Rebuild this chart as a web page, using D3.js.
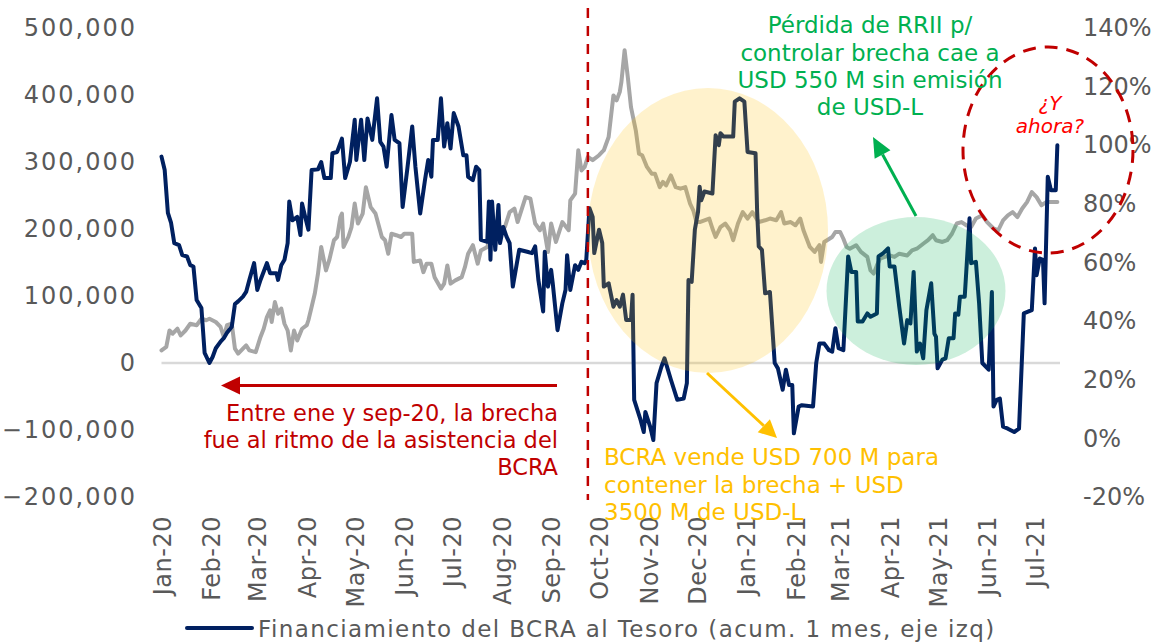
<!DOCTYPE html>
<html><head><meta charset="utf-8">
<script src="https://cdn.jsdelivr.net/npm/d3@7"></script>
<style>
html,body{margin:0;padding:0;background:#fff;}
svg{display:block;font-family:"DejaVu Sans",sans-serif;}
</style>
</head><body>
<svg id="chart" width="1156" height="642"></svg>
<script>
// ---------------- DATA ----------------
const startDate = "2020-01-01";   // day 0 of the series
const monthTicks = ["Jan-20","Feb-20","Mar-20","Apr-20","May-20","Jun-20","Jul-20","Aug-20","Sep-20","Oct-20","Nov-20","Dec-20","Jan-21","Feb-21","Mar-21","Apr-21","May-21","Jun-21","Jul-21"];
const leftTicks = [-200000,-100000,0,100000,200000,300000,400000,500000];
const rightTicks = [-20,0,20,40,60,80,100,120,140];

// Financiamiento del BCRA al Tesoro (acum. 1 mes) – days since startDate, millions ARS
const navyDays = [0,2,4,6,8,11,13,16,18,20,22,25,27,30,32,34,37,39,41,44,46,48,51,53,55,58,60,62,66,68,72,73,75,77,79,80,82,85,87,88,90,92,94,98,100,102,106,107,110,113,115,118,121,122,124,125,127,129,132,135,137,139,141,144,146,149,151,154,157,159,162,165,167,169,170,173,175,177,179,181,183,186,189,191,192,195,197,199,200,204,205,206,207,209,211,212,214,216,218,220,224,229,232,234,236,239,240,242,244,245,248,251,253,254,256,259,261,263,265,266,268,270,271,274,276,277,280,283,285,287,289,291,294,295,296,300,302,303,306,308,310,313,315,319,323,327,329,330,332,334,336,337,338,340,345,347,349,350,352,358,359,362,365,367,372,373,374,376,378,381,384,386,389,391,393,395,396,399,401,408,410,412,415,418,420,422,424,427,430,432,435,436,439,442,444,448,449,452,455,456,459,462,465,467,469,471,473,475,477,479,482,484,485,486,489,491,493,496,497,499,500,503,506,507,510,512,514,518,520,521,523,525,527,530,534,537,540,543,545,547,548,550,552,553,555,557,560,561];
const navyValues = [308000,288000,224000,209000,179000,176000,161000,159000,146000,144000,94000,82000,15000,0,9000,22000,32000,37000,45000,54000,88000,92000,99000,106000,124000,149000,109000,124000,149000,134000,134000,124000,146000,154000,179000,241000,213000,218000,191000,238000,218000,199000,288000,289000,300000,276000,276000,313000,315000,335000,276000,300000,363000,303000,343000,363000,303000,365000,333000,395000,330000,323000,293000,370000,333000,328000,233000,291000,353000,293000,223000,273000,303000,278000,333000,333000,395000,323000,358000,320000,373000,353000,310000,310000,278000,273000,293000,288000,184000,181000,241000,154000,241000,169000,236000,179000,203000,189000,179000,114000,169000,166000,164000,174000,124000,77000,166000,114000,139000,119000,49000,89000,109000,161000,109000,146000,139000,151000,149000,154000,231000,218000,164000,199000,179000,114000,119000,84000,94000,84000,102000,64000,64000,102000,-55000,-85000,-103000,-73000,-95000,-115000,-30000,-6000,7000,-25000,-55000,-53000,-30000,124000,121000,199000,226000,263000,243000,256000,253000,340000,325000,343000,338000,338000,390000,395000,390000,315000,313000,226000,174000,169000,104000,106000,0,-8000,-40000,-10000,-33000,-33000,-105000,-65000,-63000,-65000,0,29000,29000,19000,17000,52000,22000,19000,159000,136000,136000,62000,62000,74000,69000,74000,159000,164000,171000,144000,144000,84000,29000,64000,59000,136000,17000,29000,7000,79000,119000,44000,39000,-8000,5000,7000,37000,37000,74000,72000,99000,99000,216000,149000,151000,89000,0,-10000,106000,-65000,-55000,-53000,-95000,-98000,-103000,-98000,74000,77000,79000,171000,131000,156000,154000,89000,278000,258000,258000,325000];

// Brecha cambiaria (%, eje der) – days since startDate
const gapDays = [0,3,5,7,10,12,15,18,22,25,28,30,34,37,39,41,44,46,48,51,53,55,59,62,64,66,68,69,71,73,75,77,79,81,83,85,88,91,92,94,96,98,100,103,105,108,110,112,113,114,117,119,121,123,126,128,131,134,138,140,142,144,147,150,152,157,158,162,164,166,169,171,175,177,179,181,184,188,190,192,195,198,200,204,207,209,212,215,218,221,223,228,231,234,237,239,242,244,247,251,255,256,259,261,263,265,267,270,274,277,280,283,285,287,288,290,292,294,297,299,301,304,307,309,312,314,316,319,322,325,328,331,333,335,337,340,343,345,347,350,353,356,358,361,364,367,370,374,378,381,385,388,390,394,397,400,402,406,409,412,413,415,420,422,425,427,429,431,435,438,442,444,446,448,450,453,456,459,462,467,470,473,477,480,483,485,489,492,495,498,501,504,507,510,514,517,521,524,527,530,533,536,539,542,545,548,551,554,561];
const gapValues = [30.0,31.2,36.8,35.7,37.4,35.1,36.8,39.1,38.6,40.8,40.3,40.8,39.7,38.0,34.6,38.6,39.1,30.6,28.9,30.6,31.7,30.0,29.4,34.6,37.4,41.4,43.7,39.7,46.5,42.5,44.3,39.1,36.8,30.0,36.8,33.4,37.4,38.6,40.3,44.8,49.4,56.2,65.3,57.3,60.7,67.6,68.7,75.5,76.7,65.3,68.7,72.1,80.1,73.3,76.7,85.7,78.9,76.7,68.7,67.6,63.0,69.8,69.3,68.7,69.8,69.8,60.2,60.7,56.7,59.6,59.6,55.0,51.1,52.8,59.0,52.8,53.9,55.0,58.4,63.0,65.9,59.6,64.1,65.3,71.0,68.1,72.1,72.1,77.2,78.4,73.8,82.3,81.8,73.3,71.0,73.3,63.6,73.3,67.0,73.8,71.0,81.2,83.5,98.3,91.4,92.6,96.0,94.9,96.6,98.3,102.8,117.0,115.3,118.2,121.6,132.4,123.3,113.0,105.1,97.1,96.6,92.6,90.3,90.3,85.7,87.5,86.3,89.7,85.7,85.2,85.7,80.1,77.8,73.8,73.8,74.4,75.0,71.6,68.7,72.1,73.3,71.0,67.6,73.3,77.2,75.0,77.2,73.8,74.4,75.0,74.4,77.2,73.3,73.8,72.7,75.0,71.0,65.3,63.6,65.9,60.2,67.0,68.7,70.4,70.4,68.1,65.3,64.7,65.9,63.6,61.9,57.3,56.2,59.0,61.3,61.9,62.4,61.9,63.0,62.4,64.1,64.7,66.4,67.6,69.3,67.6,67.0,67.6,69.8,73.3,73.8,72.7,72.1,75.0,76.1,73.8,71.6,71.0,74.4,76.1,77.2,75.5,78.4,80.6,84.0,82.3,79.5,80.6,80.6];

const legendLabel = "Financiamiento del BCRA al Tesoro (acum. 1 mes, eje izq)";
const greenNote = ["Pérdida de RRII p/","controlar brecha cae a","USD 550 M sin emisión","de USD-L"];
const redNote = ["Entre ene y sep-20, la brecha","fue al ritmo de la asistencia del","BCRA"];
const yellowNote = ["BCRA vende USD 700 M para","contener la brecha + USD","3500 M de USD-L"];
const circleNote = ["¿Y","ahora?"];
const cutDate = "2020-09-24";

// ---------------- CHART ----------------
const svg = d3.select("#chart");
const t0 = new Date(startDate + "T00:00:00Z");
const dayToDate = d => d3.utcDay.offset(t0, d);

const x = d3.scaleUtc().domain([t0, d3.utcMonth.offset(t0, 18)]).range([161.5, 1035]);
const yL = d3.scaleLinear().domain([-200000, 500000]).range([497, 28]);
const yR = d3.scaleLinear().domain([-20, 140]).range([497, 28]);

const axisColor = "#595959";

// zero line
svg.append("line")
  .attr("x1", x(t0)).attr("x2", 1060)
  .attr("y1", yL(0)).attr("y2", yL(0))
  .attr("stroke", "#D9D9D9").attr("stroke-width", 2.5);

// left axis
const gL = svg.append("g").attr("transform", "translate(137,0)")
  .call(d3.axisLeft(yL).tickValues(leftTicks).tickSize(0).tickPadding(0).tickFormat(d3.format(",")));
gL.select(".domain").remove();
gL.selectAll("text").attr("fill", axisColor).attr("font-size", 24).attr("font-family", "DejaVu Sans").style("letter-spacing", "2px");

// right axis
const gR = svg.append("g").attr("transform", "translate(1083,0)")
  .call(d3.axisRight(yR).tickValues(rightTicks).tickSize(0).tickPadding(0).tickFormat(d => d + "%"));
gR.select(".domain").remove();
gR.selectAll("text").attr("fill", axisColor).attr("font-size", 24).attr("font-family", "DejaVu Sans");

// bottom axis (rotated month labels)
const monthDates = monthTicks.map((m, i) => d3.utcMonth.offset(t0, i));
const gB = svg.append("g").attr("transform", "translate(0,516)")
  .call(d3.axisBottom(x).tickValues(monthDates).tickSize(0).tickPadding(0).tickFormat((d, i) => monthTicks[i]));
gB.select(".domain").remove();
gB.selectAll("text")
  .attr("transform", "rotate(-90)")
  .attr("text-anchor", "end")
  .attr("x", 0).attr("y", 0).attr("dy", "0.36em")
  .attr("fill", axisColor).attr("font-size", 24).attr("font-family", "DejaVu Sans")
  .style("letter-spacing", "0.5px");

// lines
const gapData = gapDays.map((d, i) => ({date: dayToDate(d), v: gapValues[i]}));
const navyData = navyDays.map((d, i) => ({date: dayToDate(d), v: navyValues[i]}));

svg.append("path").datum(gapData)
  .attr("fill", "none").attr("stroke", "#A6A6A6").attr("stroke-width", 4)
  .attr("stroke-linejoin", "round").attr("stroke-linecap", "round")
  .attr("d", d3.line().x(d => x(d.date)).y(d => yR(d.v)));

svg.append("path").datum(navyData)
  .attr("fill", "none").attr("stroke", "#002060").attr("stroke-width", 4)
  .attr("stroke-linejoin", "round").attr("stroke-linecap", "round")
  .attr("d", d3.line().x(d => x(d.date)).y(d => yL(d.v)));

// vertical red dashed line
const cx = x(new Date(cutDate + "T00:00:00Z"));
svg.append("line")
  .attr("x1", cx).attr("x2", cx).attr("y1", 8).attr("y2", 500)
  .attr("stroke", "#C00000").attr("stroke-width", 2.5).attr("stroke-dasharray", "10 8");

// ellipses
svg.append("ellipse").attr("cx", 708).attr("cy", 230.5).attr("rx", 120).attr("ry", 142.5)
  .attr("fill", "#FFC000").attr("fill-opacity", 0.2);
svg.append("ellipse").attr("cx", 916).attr("cy", 291).attr("rx", 89.5).attr("ry", 74)
  .attr("fill", "#00B050").attr("fill-opacity", 0.2);
svg.append("ellipse").attr("cx", 1048).attr("cy", 150).attr("rx", 85).attr("ry", 103)
  .attr("fill", "none").attr("stroke", "#C00000").attr("stroke-width", 3).attr("stroke-dasharray", "13 9");

// arrows
function arrow(x1, y1, x2, y2, color, headLen, headW, w) {
  const ang = Math.atan2(y2 - y1, x2 - x1);
  const bx = x2 - headLen * Math.cos(ang), by = y2 - headLen * Math.sin(ang);
  svg.append("line").attr("x1", x1).attr("y1", y1).attr("x2", bx).attr("y2", by)
    .attr("stroke", color).attr("stroke-width", w);
  const px = -Math.sin(ang) * headW / 2, py = Math.cos(ang) * headW / 2;
  svg.append("polygon")
    .attr("points", [[x2, y2], [bx + px, by + py], [bx - px, by - py]].map(p => p.join(",")).join(" "))
    .attr("fill", color);
}
arrow(557, 385.5, 221, 385.5, "#C00000", 19, 18, 3);
arrow(707, 373, 777, 438, "#FFC000", 18, 18, 3);
arrow(916, 216, 873, 137, "#00B050", 20, 18, 3);

// annotation texts
function lines(arr, xPos, ys, anchor, color, size, style) {
  arr.forEach((s, i) => {
    svg.append("text").attr("x", xPos).attr("y", ys[i])
      .attr("text-anchor", anchor).attr("fill", color)
      .attr("font-size", size).attr("font-style", style || "normal")
      .text(s);
  });
}
lines(greenNote, 870, [33, 61, 88, 115], "middle", "#00B050", 23);
lines(redNote, 558, [421, 448, 475], "end", "#C00000", 22.5);
lines(yellowNote, 604, [465, 493, 520], "start", "#FFC000", 23);
lines(circleNote, 1050, [110, 133], "middle", "#FF0000", 20, "italic");

// legend
svg.append("line").attr("x1", 187).attr("x2", 252).attr("y1", 628).attr("y2", 628)
  .attr("stroke", "#002060").attr("stroke-width", 4).attr("stroke-linecap", "round");
svg.append("text").attr("x", 258).attr("y", 636.5).attr("fill", axisColor)
  .attr("font-size", 23).style("letter-spacing", "1.4px").text(legendLabel);
</script>
</body></html>
